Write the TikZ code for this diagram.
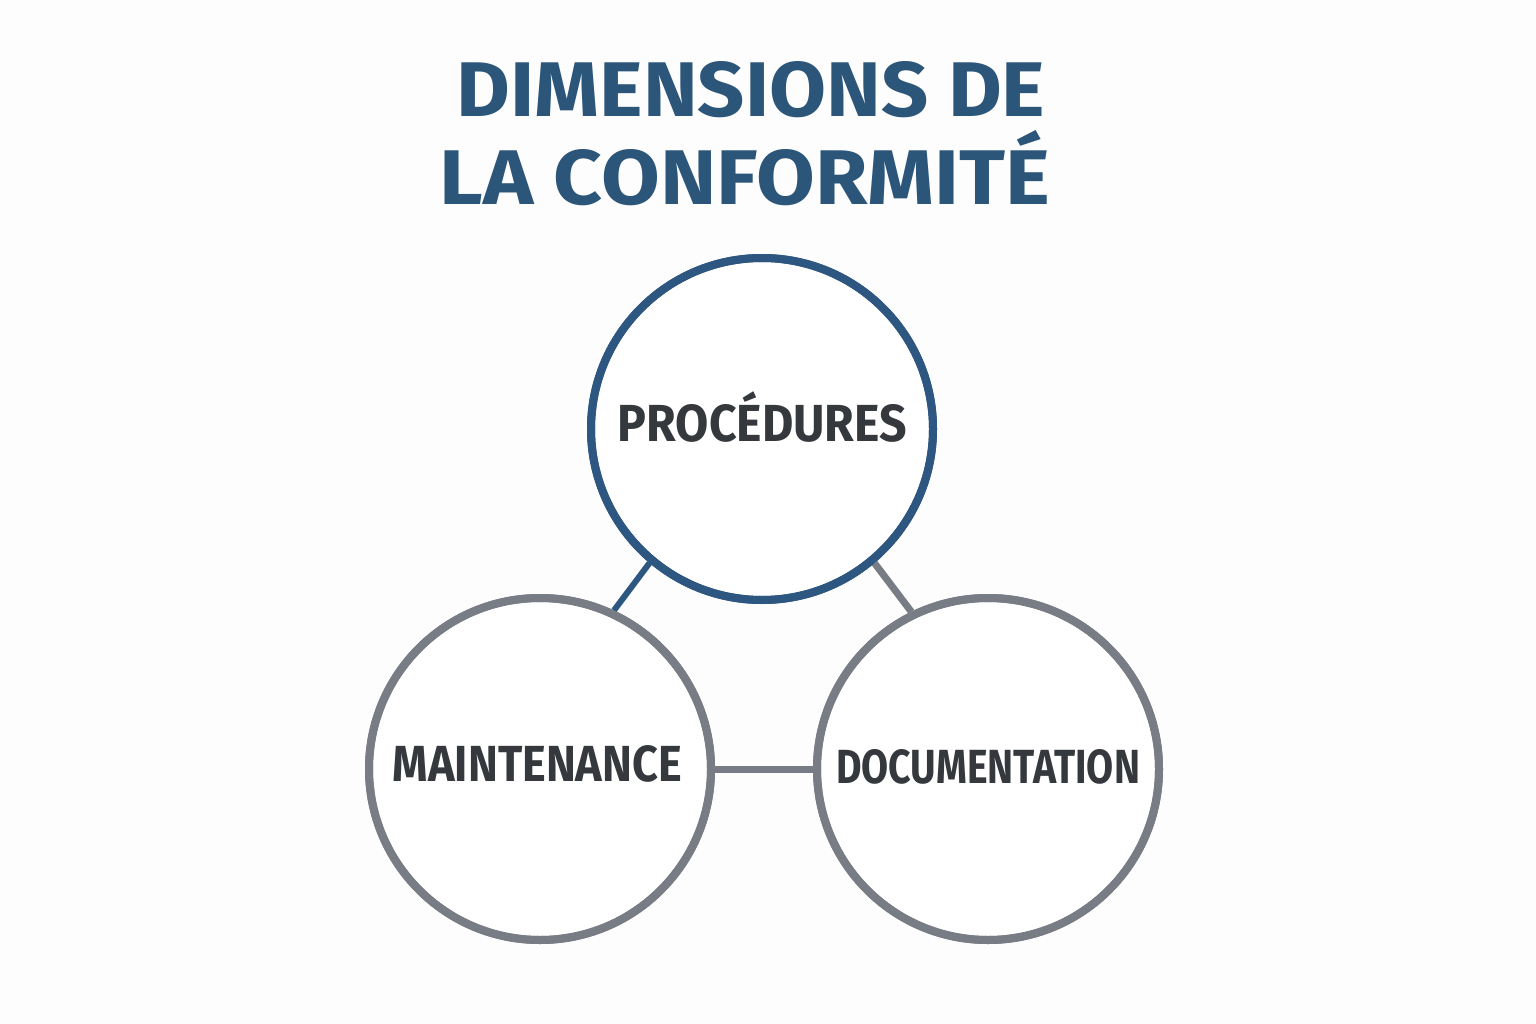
\documentclass[tikz,border=0pt]{standalone}
\usepackage{fontspec}
\setmainfont{Fira Sans}
\usepackage{graphicx}
\definecolor{bgc}{HTML}{FDFDFD}
\definecolor{titleblue}{HTML}{2B5579}
\definecolor{ringblue}{HTML}{2D5780}
\definecolor{ringgray}{HTML}{777C85}
\definecolor{txt}{HTML}{35383C}
\begin{document}
\begin{tikzpicture}[x=1pt,y=-1pt,
  ring/.style={circle, draw, line width=8pt, minimum size=342pt, inner sep=0pt, fill=white},
  bluering/.style={ring, draw=ringblue},
  grayring/.style={ring, draw=ringgray},
  bluelink/.style={draw=ringblue, line width=6pt},
  graylink/.style={draw=ringgray, line width=7pt},
  ttl/.style={anchor=base, inner sep=0pt, text=titleblue, font=\bfseries},
  lbl/.style={anchor=base, inner sep=0pt, text=txt, font=\bfseries}]
\fill[bgc] (0,0) rectangle (1536,1024);
\useasboundingbox (0,0) rectangle (1536,1024);
% title
\node[ttl] (t1) at (751,117) {\resizebox{588pt}{55pt}{DIMENSIONS DE}};
\node[ttl] (t2) at (745,205) {\resizebox{610pt}{55pt}{LA CONFORMIT\smash{É}}};
% circles
\node[bluering] (top) at (762,429) {};
\node[grayring] (left) at (540,769) {};
\node[grayring] (right) at (988,769) {};
% connectors
\draw[bluelink] (top.230) -- (left.65);
\draw[graylink] (top.310) -- (right.116);
\draw[graylink] (left.east) -- (right.west);
% redraw circles on top of link ends
\node[bluering, fill=none] at (762,429) {};
\node[grayring, fill=none] at (540,769) {};
\node[grayring, fill=none] at (988,769) {};
% labels
\node[lbl] (lp) at (762.5,441) {\resizebox{289pt}{37pt}{PROC\smash{É}DURES}};
\node[lbl] (lm) at (537.5,781) {\resizebox{289pt}{36pt}{MAINTENANCE}};
\node[lbl] (ld) at (988,783) {\resizebox{304pt}{34pt}{DOCUMENTATION}};
\end{tikzpicture}
\end{document}
